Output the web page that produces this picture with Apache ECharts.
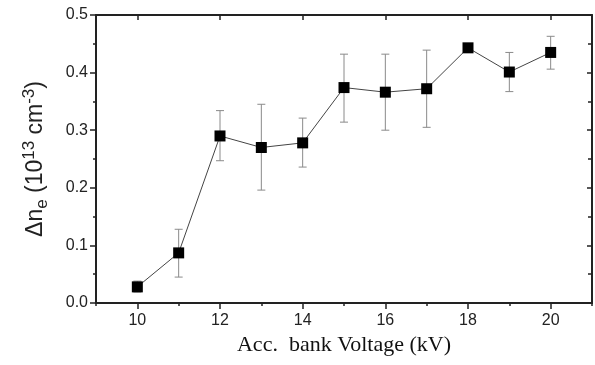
<!DOCTYPE html>
<html>
<head>
<meta charset="utf-8">
<script src="https://cdn.jsdelivr.net/npm/echarts@6/dist/echarts.min.js"></script>
<style>
  html, body { margin: 0; padding: 0; background: #fff; }
  #chart { width: 595px; height: 365px; }
</style>
</head>
<body>
<div id="chart"></div>
<script>
// acceleration bank voltage (kV)
var voltage = [10, 11, 12, 13, 14, 15, 16, 17, 18, 19, 20];
// delta n_e (10^13 cm^-3)
var density = [0.028, 0.087, 0.290, 0.270, 0.278, 0.374, 0.366, 0.372, 0.443, 0.401, 0.435];
var errLow  = [0.019, 0.045, 0.247, 0.196, 0.236, 0.314, 0.300, 0.305, 0.443, 0.367, 0.406];
var errHigh = [0.038, 0.128, 0.334, 0.345, 0.321, 0.432, 0.432, 0.439, 0.443, 0.435, 0.463];

var xMajor = [10, 12, 14, 16, 18, 20];
var xMinor = [9, 11, 13, 15, 17, 19, 21];

var chart = echarts.init(document.getElementById('chart'));

var errData = [];
for (var i = 0; i < voltage.length; i++) {
	errData.push([voltage[i], errLow[i], errHigh[i]]);
}

function renderErr(params, api) {
	var x = api.value(0);
	var lo = api.coord([x, api.value(1)]);
	var hi = api.coord([x, api.value(2)]);
	var cap = 4;
	var style = { stroke: '#8a8a8a', lineWidth: 1 };
	return {
		type: 'group',
		children: [
			{ type: 'line', shape: { x1: lo[0], y1: lo[1], x2: hi[0], y2: hi[1] }, style: style },
			{ type: 'line', shape: { x1: lo[0] - cap, y1: lo[1], x2: lo[0] + cap, y2: lo[1] }, style: style },
			{ type: 'line', shape: { x1: hi[0] - cap, y1: hi[1], x2: hi[0] + cap, y2: hi[1] }, style: style }
		]
	};
}

var axisLine = { show: true, lineStyle: { color: '#222', width: 2 } };
var sans = 'Liberation Sans, Arial, sans-serif';
var labelFont = { color: '#222', fontSize: 16, fontFamily: sans };

var option = {
	animation: false,
	grid: { left: 96, right: 3, top: 15, bottom: 62 },
	xAxis: [
		{
			type: 'value', min: 9, max: 21, position: 'bottom',
			axisLine: axisLine,
			axisTick: { show: true, length: 6, customValues: xMajor, lineStyle: { color: '#222', width: 1.5 } },
			axisLabel: Object.assign({ customValues: xMajor, margin: 10 }, labelFont),
			splitLine: { show: false },
			name: 'Acc.  bank Voltage (kV)',
			nameLocation: 'middle',
			nameGap: 28,
			nameTextStyle: { color: '#111', fontSize: 22, fontFamily: 'Liberation Serif, Times New Roman, serif' }
		},
		{
			type: 'value', min: 9, max: 21, position: 'bottom',
			axisLine: { show: false },
			axisTick: { show: true, length: 3, customValues: xMinor, lineStyle: { color: '#222', width: 1.5 } },
			axisLabel: { show: false },
			splitLine: { show: false }
		},
		{
			type: 'value', min: 9, max: 21, position: 'top',
			axisLine: axisLine,
			axisTick: { show: true, inside: true, length: 5, customValues: xMajor, lineStyle: { color: '#222', width: 1.5 } },
			axisLabel: { show: false },
			splitLine: { show: false }
		}
	],
	yAxis: [
		{
			type: 'value', min: 0, max: 0.5, interval: 0.1, position: 'left',
			axisLine: axisLine,
			axisTick: { show: true, length: 6, lineStyle: { color: '#222', width: 1.5 } },
			minorTick: { show: true, splitNumber: 2, length: 3, lineStyle: { color: '#222', width: 1.5 } },
			axisLabel: Object.assign({ margin: 8, formatter: function (v) { return v.toFixed(1); } }, labelFont),
			splitLine: { show: false },
			name: 'Δn{sub|e} (10{sup|13} cm{sup|-3})',
			nameLocation: 'middle',
			nameRotate: 90,
			nameGap: 43,
			nameTextStyle: {
				color: '#222', fontSize: 23, fontFamily: sans,
				lineHeight: 34,
				rich: {
					sub: { fontSize: 17, fontFamily: sans, color: '#222', padding: [12, 0, 0, 0] },
					sup: { fontSize: 17, fontFamily: sans, color: '#222', padding: [0, 0, 14, 0] }
				}
			}
		},
		{
			type: 'value', min: 0, max: 0.5, interval: 0.1, position: 'right',
			axisLine: axisLine,
			axisTick: { show: true, inside: true, length: 5, lineStyle: { color: '#222', width: 1.5 } },
			minorTick: { show: true, splitNumber: 2, length: 4, lineStyle: { color: '#222', width: 1.5 } },
			axisLabel: { show: false },
			splitLine: { show: false }
		}
	],
	series: [
		{
			type: 'custom',
			xAxisIndex: 0,
			yAxisIndex: 0,
			renderItem: renderErr,
			data: errData,
			z: 1
		},
		{
			type: 'line',
			xAxisIndex: 0,
			yAxisIndex: 0,
			data: voltage.map(function (v, i) { return [v, density[i]]; }),
			symbol: 'rect',
			symbolSize: 11,
			itemStyle: { color: '#000' },
			lineStyle: { color: '#444', width: 1 },
			z: 3
		}
	]
};

chart.setOption(option);
</script>
</body>
</html>
